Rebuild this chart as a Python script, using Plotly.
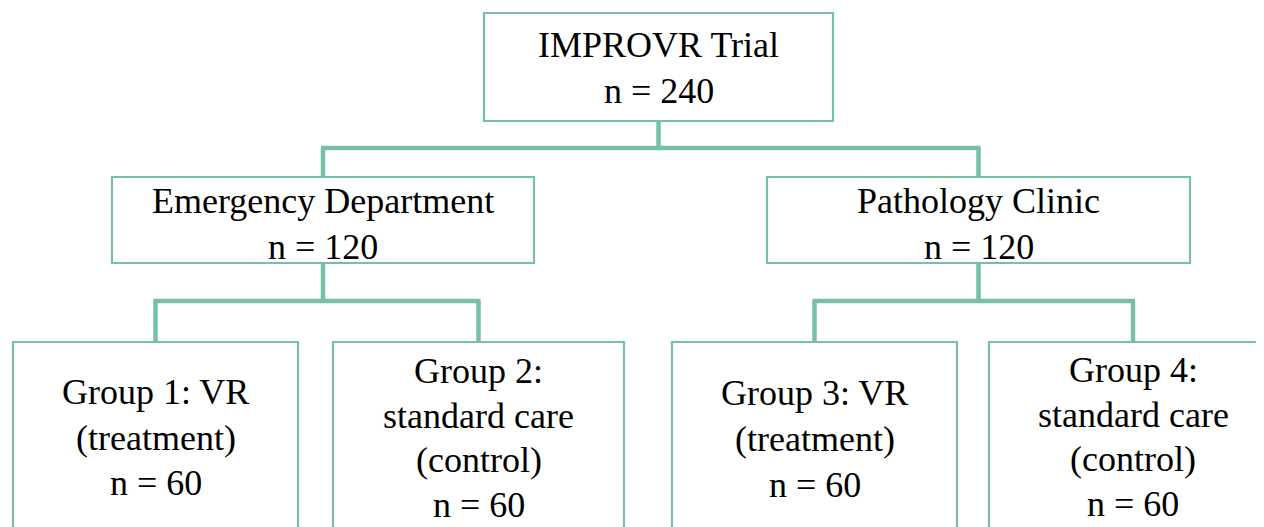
import plotly.graph_objects as go

# ---- data ----
node_labels = [
    ["IMPROVR Trial"],
    ["Emergency Department"],
    ["Pathology Clinic"],
    ["Group 1: VR", "(treatment)"],
    ["Group 2:", "standard care", "(control)"],
    ["Group 3: VR", "(treatment)"],
    ["Group 4:", "standard care", "(control)"],
]
n_values = [240, 120, 120, 60, 60, 60, 60]
parents = [None, 0, 0, 1, 1, 2, 2]

# ---- layout (pixel-space positions of boxes / text) ----
box_x0 = [484, 112, 767, 13, 333, 672, 989]
box_x1 = [833, 534, 1190, 298, 624, 957, 1277]
box_y0 = [13, 177, 177, 342, 342, 342, 342]
box_y1 = [121, 263, 263, 600, 600, 600, 600]
first_line_y = [45, 201, 201, 392, 371, 393, 370]
line_gap = [46, 46, 46, 45.5, 44.5, 46, 44.5]
bus_y = {0: 148, 1: 301, 2: 301}

W, H = 1264, 527
OFF = 8  # page body margin, so that data units equal page pixels
TEAL = "#77BFA5"
FONT = "Liberation Serif, Times New Roman, serif"
FSIZE = 36

fig = go.Figure()
shapes = []
annotations = []

# connectors
for p, y_bus in bus_y.items():
    kids = [i for i, par in enumerate(parents) if par == p]
    pcx = (box_x0[p] + box_x1[p]) / 2
    kcx = [(box_x0[k] + box_x1[k]) / 2 for k in kids]
    line = dict(color=TEAL, width=4.5)
    shapes.append(dict(type="line", x0=pcx, x1=pcx, y0=box_y1[p], y1=y_bus, line=line, layer="below"))
    shapes.append(dict(type="line", x0=min(kcx) - 2, x1=max(kcx) + 2, y0=y_bus, y1=y_bus, line=line, layer="below"))
    for k, cx in zip(kids, kcx):
        shapes.append(dict(type="line", x0=cx, x1=cx, y0=y_bus, y1=box_y0[k], line=line, layer="below"))

# boxes and text
for i, lines in enumerate(node_labels):
    shapes.append(dict(type="rect", x0=box_x0[i], x1=box_x1[i], y0=box_y0[i], y1=box_y1[i],
                       line=dict(color=TEAL, width=2.2), fillcolor="white", layer="below"))
    all_lines = lines + [f"n = {n_values[i]}"]
    cx = (box_x0[i] + box_x1[i]) / 2
    for j, t in enumerate(all_lines):
        annotations.append(dict(x=cx, y=first_line_y[i] + j * line_gap[i], text=t,
                                showarrow=False, xanchor="center", yanchor="middle",
                                font=dict(family=FONT, size=FSIZE, color="#000000")))

fig.update_layout(
    width=W, height=H,
    margin=dict(l=0, r=0, t=0, b=0),
    paper_bgcolor="white", plot_bgcolor="white",
    xaxis=dict(range=[OFF, W + OFF], visible=False, fixedrange=True),
    yaxis=dict(range=[H + OFF, OFF], visible=False, fixedrange=True),
    shapes=shapes, annotations=annotations, showlegend=False,
)
fig.write_html("out.html")
